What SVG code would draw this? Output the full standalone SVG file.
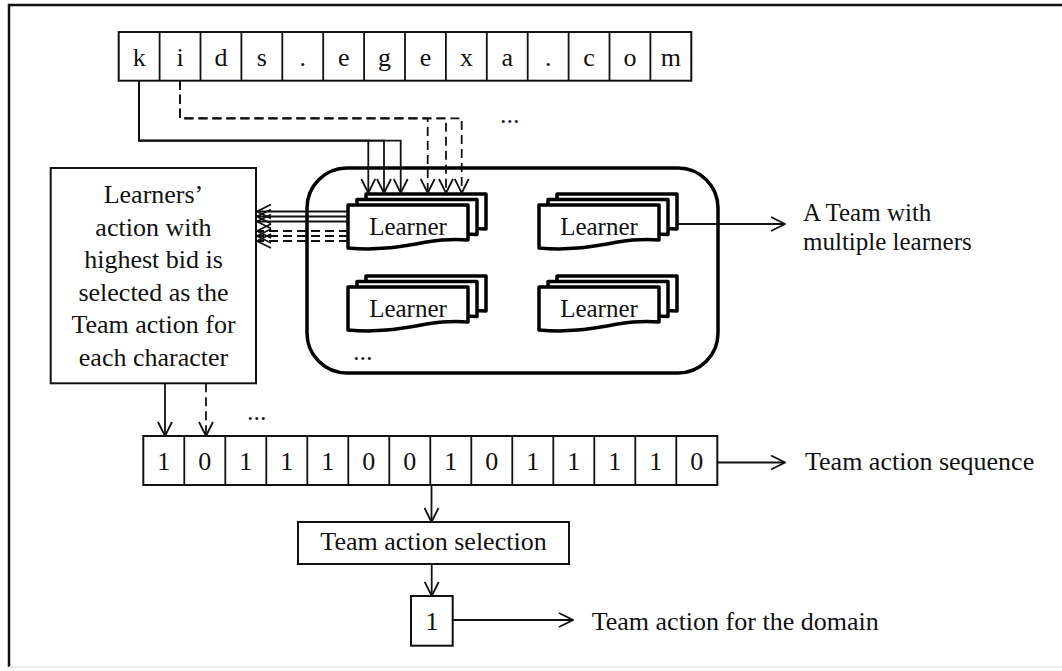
<svg xmlns="http://www.w3.org/2000/svg" xmlns:xlink="http://www.w3.org/1999/xlink" width="1062" height="671" viewBox="0 0 1062 671">
<style>
text{font-family:"Liberation Serif","Times New Roman",serif;fill:#111}
.t26{font-size:26px}
.t25{font-size:25px}
.c{text-anchor:middle}
.box{fill:#fff;stroke:#111;stroke-width:2}
.doc{fill:#fff;stroke:#000;stroke-width:3.5;stroke-linejoin:round}
.ln{fill:none;stroke:#111;stroke-width:1.8}
.dash{stroke-dasharray:9 5}
.arr{marker-end:url(#ah)}
</style>
<defs>
<marker id="ah" viewBox="0 0 16 16" refX="15" refY="8" markerWidth="16" markerHeight="16" markerUnits="userSpaceOnUse" orient="auto">
<path d="M1,1 L15,8 L1,15" fill="none" stroke="#111" stroke-width="1.8" stroke-dasharray="none"/>
</marker>
<path id="doc" d="M0,0 H120 V35 C80,31 55,48 0,43 Z"/>
</defs>
<rect width="1062" height="671" fill="#fff"/>
<g id="frame">
<path d="M9,667 V5 H1062" fill="none" stroke="#111" stroke-width="2.5"/>
<path d="M9,667 H1062" fill="none" stroke="#e4e4e4" stroke-width="1.5"/>
</g>
<g id="domain">
<rect class="box" x="118.7" y="32" width="572.6" height="48.7"/>
<path class="ln" d="M159.6,32V80.7M200.5,32V80.7M241.4,32V80.7M282.3,32V80.7M323.2,32V80.7M364.1,32V80.7M405,32V80.7M445.9,32V80.7M486.8,32V80.7M527.7,32V80.7M568.6,32V80.7M609.5,32V80.7M650.4,32V80.7" stroke-width="2"/>
<g class="t26 c">
<text x="139.2" y="66">k</text><text x="180.1" y="66">i</text><text x="221" y="66">d</text><text x="261.9" y="66">s</text><text x="302.8" y="66">.</text><text x="343.7" y="66">e</text><text x="384.6" y="66">g</text><text x="425.5" y="66">e</text><text x="466.4" y="66">x</text><text x="507.3" y="66">a</text><text x="548.2" y="66">.</text><text x="589.1" y="66">c</text><text x="630" y="66">o</text><text x="670.9" y="66">m</text>
</g>
<text class="t26" x="500" y="123">...</text>
</g>
<g id="team">
<rect x="307" y="168" width="411" height="205" rx="40" ry="40" fill="none" stroke="#000" stroke-width="3.5"/>
<text class="t26" x="353" y="360">...</text>
</g>
<g id="learner1">
<use xlink:href="#doc" class="doc" x="366" y="194"/>
<use xlink:href="#doc" class="doc" x="357" y="199.5"/>
<use xlink:href="#doc" class="doc" x="348" y="205"/>
<text class="t25 c" x="408" y="235">Learner</text>
</g>
<g id="learner2">
<use xlink:href="#doc" class="doc" x="557" y="194"/>
<use xlink:href="#doc" class="doc" x="548" y="199.5"/>
<use xlink:href="#doc" class="doc" x="539" y="205"/>
<text class="t25 c" x="599" y="235">Learner</text>
</g>
<g id="learner3">
<use xlink:href="#doc" class="doc" x="366" y="276"/>
<use xlink:href="#doc" class="doc" x="357" y="281.5"/>
<use xlink:href="#doc" class="doc" x="348" y="287"/>
<text class="t25 c" x="408" y="317">Learner</text>
</g>
<g id="learner4">
<use xlink:href="#doc" class="doc" x="557" y="276"/>
<use xlink:href="#doc" class="doc" x="548" y="281.5"/>
<use xlink:href="#doc" class="doc" x="539" y="287"/>
<text class="t25 c" x="599" y="317">Learner</text>
</g>
<g id="team-label">
<text class="t25" x="803" y="221">A Team with</text>
<text class="t25" x="803" y="250">multiple learners</text>
</g>
<g id="select-box">
<rect class="box" x="50.7" y="168" width="205.3" height="215.3"/>
<g class="t26 c">
<text x="153.5" y="203">Learners’</text>
<text x="153.5" y="235.5">action with</text>
<text x="153.5" y="268">highest bid is</text>
<text x="153.5" y="300.5">selected as the</text>
<text x="153.5" y="333">Team action for</text>
<text x="153.5" y="365.5">each character</text>
</g>
</g>
<g id="sequence">
<rect class="box" x="143.3" y="436" width="574" height="49"/>
<path class="ln" d="M184.3,436V485M225.3,436V485M266.3,436V485M307.3,436V485M348.3,436V485M389.3,436V485M430.3,436V485M471.3,436V485M512.3,436V485M553.3,436V485M594.3,436V485M635.3,436V485M676.3,436V485" stroke-width="2"/>
<g class="t26 c">
<text x="163.8" y="470">1</text><text x="204.8" y="470">0</text><text x="245.8" y="470">1</text><text x="286.8" y="470">1</text><text x="327.8" y="470">1</text><text x="368.8" y="470">0</text><text x="409.8" y="470">0</text><text x="450.8" y="470">1</text><text x="491.8" y="470">0</text><text x="532.8" y="470">1</text><text x="573.8" y="470">1</text><text x="614.8" y="470">1</text><text x="655.8" y="470">1</text><text x="696.8" y="470">0</text>
</g>
<text class="t26" x="247" y="420">...</text>
</g>
<g id="sequence-label">
<text class="t26" x="805" y="470">Team action sequence</text>
</g>
<g id="selection">
<rect class="box" x="298" y="522" width="271" height="42"/>
<text class="t26 c" x="433.5" y="550">Team action selection</text>
</g>
<g id="result">
<rect class="box" x="411" y="596" width="41.7" height="49.7"/>
<text class="t26 c" x="432" y="630">1</text>
</g>
<g id="result-label">
<text class="t26" x="591.7" y="630">Team action for the domain</text>
</g>
<g id="connectors">
<path class="ln arr" d="M139,80.7 V140.7 H368.3 V193"/>
<path class="ln arr" d="M139,80.7 V140.7 H384 V193"/>
<path class="ln arr" d="M139,80.7 V140.7 H400.7 V193"/>
<path class="ln dash arr" d="M180,80.7 V118.3 H427.7 V193"/>
<path class="ln dash arr" d="M180,80.7 V118.3 H446 V193"/>
<path class="ln dash arr" d="M180,80.7 V118.3 H461.7 V193"/>
<path class="ln arr" d="M348,211.5 H257"/>
<path class="ln arr" d="M348,216.5 H257"/>
<path class="ln arr" d="M348,221.5 H257"/>
<path class="ln dash arr" d="M348,231 H257"/>
<path class="ln dash arr" d="M348,236 H257"/>
<path class="ln dash arr" d="M348,241 H257"/>
<path class="ln arr" d="M677,224 H785"/>
<path class="ln arr" d="M165,383.3 V436"/>
<path class="ln dash arr" d="M206,383.3 V436"/>
<path class="ln arr" d="M717.3,462.5 H785"/>
<path class="ln arr" d="M431.5,485 V522"/>
<path class="ln arr" d="M431.7,564 V596"/>
<path class="ln arr" d="M452.7,620 H573"/>
</g>
</svg>
